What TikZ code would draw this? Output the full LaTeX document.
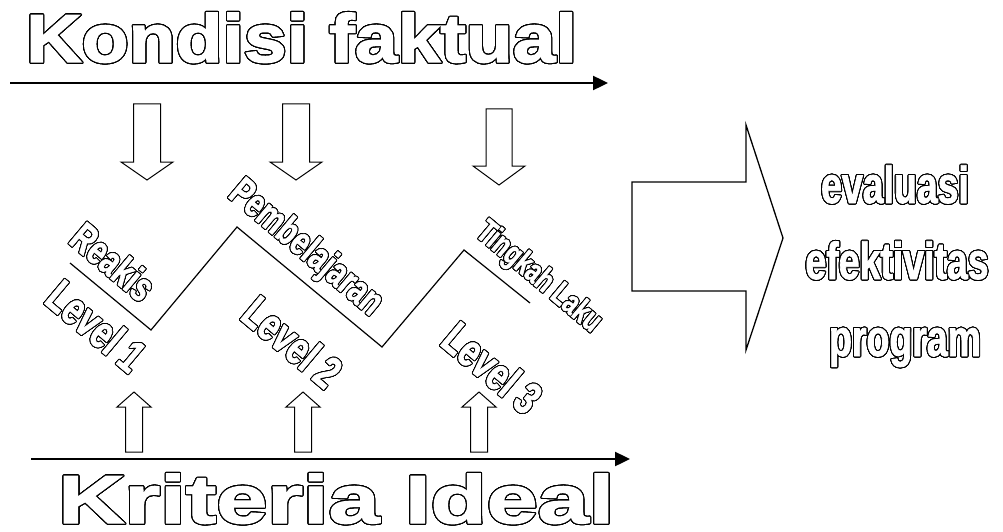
\documentclass[tikz,border=0pt]{standalone}
\usepackage{fontspec}
\setmainfont{Liberation Sans}
\newfontfamily\widefontA[FakeStretch=1.13,FakeBold=2]{Liberation Sans}
\newfontfamily\widefontB[FakeStretch=1.35,FakeBold=2]{Liberation Sans}
\newfontfamily\narrowfont[FakeStretch=0.72,FakeBold=1.5]{Liberation Sans}
\usepackage[copies]{contour}
\contournumber{32}
\usetikzlibrary{arrows.meta}
\tikzset{
	block arrow/.pic={
		\tikzset{%
			/blockarrow/.cd,
			#1
		}
		\draw [pic actions]
		(-\bashaft/2,0) -- (\bashaft/2,0) -- (\bashaft/2,\balength-\batip) -- (\bahead/2,\balength-\batip)
		-- (0,\balength) -- (-\bahead/2,\balength-\batip) -- (-\bashaft/2,\balength-\batip) -- cycle;
	},
	/blockarrow/.search also={/tikz},
	/blockarrow/.cd,
	shaft/.store in=\bashaft,
	head/.store in=\bahead,
	length/.store in=\balength,
	tip/.store in=\batip,
	shaft=26,
	head=52,
	length=78,
	tip=20,
}
\tikzset{
	barrow/.style={line width=1pt,fill=white},
	axis/.style={line width=2.4pt,-{Triangle[length=15pt,width=14pt]}},
	outlined/.style={text=white,inner sep=0pt},
	title/.style={outlined,anchor=base west,font=#1\bfseries\fontsize{68}{68}\selectfont\contourlength{1.1pt}},
	levelname/.style={outlined,rotate=-40,font=\narrowfont\bfseries\fontsize{#1}{#1}\selectfont\contourlength{0.9pt}},
	result/.style={outlined,anchor=base,font=\narrowfont\bfseries\fontsize{52}{52}\selectfont\contourlength{1pt}},
}
\begin{document}
\begin{tikzpicture}[x=1pt,y=-1pt]
	\useasboundingbox[fill=white] (0,0) rectangle (1003,532);
	% sumbu atas dan bawah
	\node[title=\widefontA] (kondisi) at (26,62) {\contour{black}{Kondisi faktual}};
	\coordinate (kf0) at (10,83);
	\coordinate (kf1) at (608,83);
	\draw[axis] (kf0) -- (kf1);
	\node[title=\widefontB] (kriteria) at (58,523) {\contour{black}{Kriteria Ideal}};
	\coordinate (ki0) at (31,459);
	\coordinate (ki1) at (630,459);
	\draw[axis] (ki0) -- (ki1);
	% panah turun / naik
	\pic[barrow] (d1) at (147,104) {block arrow={shaft=27,head=52,length=76,tip=18}};
	\pic[barrow] (d2) at (296,104) {block arrow={shaft=27,head=52,length=76,tip=18}};
	\pic[barrow] (d3) at (499,109) {block arrow={shaft=26,head=52,length=76,tip=19}};
	\pic[barrow,rotate=180] (u1) at (134,452) {block arrow={shaft=17,head=34,length=60,tip=15}};
	\pic[barrow,rotate=180] (u2) at (303,452) {block arrow={shaft=17,head=34,length=60,tip=15}};
	\pic[barrow,rotate=180] (u3) at (479,452) {block arrow={shaft=17,head=34,length=60,tip=15}};
	% garis level
	\coordinate (z0) at (70,263);
	\coordinate (z1) at (151,330);
	\coordinate (z2) at (237,227);
	\coordinate (z3) at (382,347);
	\coordinate (z4) at (464,250);
	\coordinate (z5) at (530,303);
	\draw[line width=1.2pt] (z0) -- (z1) -- (z2) -- (z3) -- (z4) -- (z5);
	\node[levelname=41] (reakis) at (113,262) {\contour{black}{Reakis}};
	\node[levelname=46] (lv1) at (96,326) {\contour{black}{Level 1}};
	\node[levelname=40] (belajar) at (305,249) {\contour{black}{Pembelajaran}};
	\node[levelname=46] (lv2) at (292,342) {\contour{black}{Level 2}};
	\node[levelname=33] (laku) at (538,278) {\contour{black}{Tingkah Laku}};
	\node[levelname=46] (lv3) at (492,368) {\contour{black}{Level 3}};
	% panah besar
	\draw[barrow,line width=1.3pt] (632,182) -- (746,182) -- (746,125) -- (783,238) -- (746,350) -- (746,291) -- (632,291) -- cycle;
	\node[result] (eval) at (895,203) {\contour{black}{evaluasi}};
	\node[result] (efek) at (897,279) {\contour{black}{efektivitas}};
	\node[result] (prog) at (905,356) {\contour{black}{program}};
\end{tikzpicture}
\end{document}
